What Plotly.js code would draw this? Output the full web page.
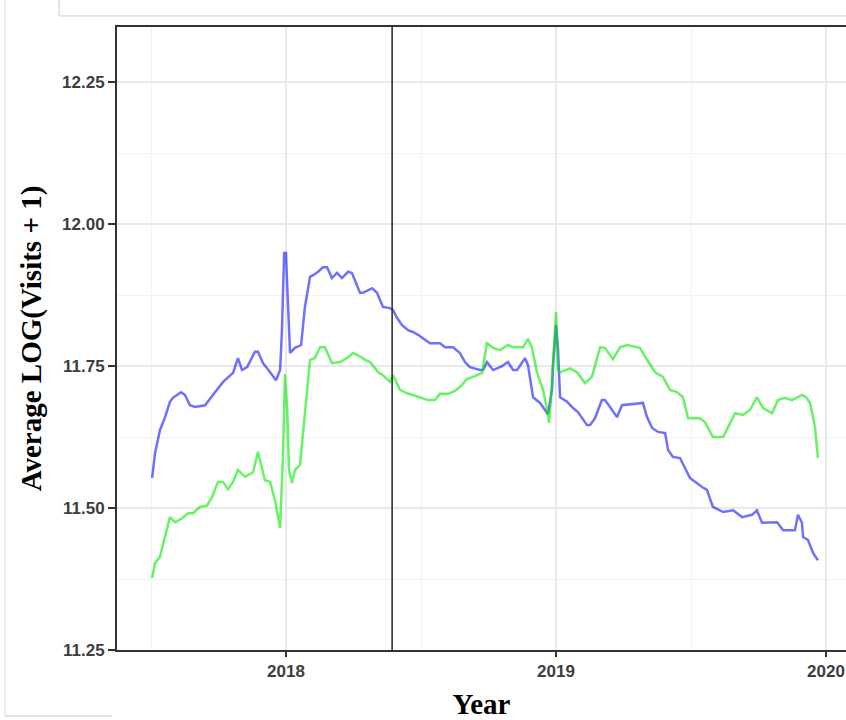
<!DOCTYPE html>
<html>
<head>
<meta charset="utf-8">
<script src="https://cdn.plot.ly/plotly-3.0.1.min.js"></script>
<style>
  html, body { margin: 0; padding: 0; background: #ffffff; }
  #chart { width: 846px; height: 720px; }
</style>
</head>
<body>
<div id="chart"></div>
<script>
// ---- Data ----
const blueYear = [2017.504,2017.515,2017.533,2017.552,2017.570,2017.581,2017.611,2017.626,2017.644,2017.663,
  2017.700,2017.719,2017.737,2017.767,2017.785,2017.804,2017.822,2017.837,2017.856,2017.885,
  2017.896,2017.915,2017.941,2017.963,2017.978,2017.985,2017.993,2018.000,2018.004,2018.015,
  2018.033,2018.056,2018.070,2018.089,2018.100,2018.119,2018.137,2018.152,2018.170,2018.189,
  2018.207,2018.230,2018.244,2018.274,2018.285,2018.319,2018.337,2018.359,2018.385,2018.396,
  2018.411,2018.430,2018.452,2018.470,2018.489,2018.515,2018.533,2018.570,2018.589,2018.619,
  2018.644,2018.663,2018.681,2018.719,2018.730,2018.744,2018.767,2018.800,2018.822,2018.841,
  2018.856,2018.885,2018.896,2018.915,2018.941,2018.970,2018.985,2018.989,2019.000,2019.007,
  2019.015,2019.041,2019.063,2019.081,2019.115,2019.126,2019.144,2019.170,2019.181,2019.200,
  2019.226,2019.244,2019.285,2019.322,2019.337,2019.356,2019.378,2019.404,2019.415,2019.433,
  2019.459,2019.478,2019.496,2019.541,2019.559,2019.581,2019.619,2019.656,2019.689,2019.726,
  2019.744,2019.763,2019.800,2019.819,2019.841,2019.885,2019.896,2019.911,2019.915,2019.933,
  2019.952,2019.970];
const blueValue = [11.553,11.597,11.637,11.660,11.687,11.694,11.704,11.699,11.681,11.678,
  11.681,11.694,11.704,11.722,11.729,11.738,11.764,11.743,11.748,11.775,
  11.775,11.755,11.739,11.725,11.743,11.813,11.949,11.949,11.896,11.773,
  11.782,11.787,11.854,11.907,11.910,11.916,11.924,11.924,11.905,11.914,
  11.905,11.916,11.914,11.879,11.879,11.887,11.879,11.854,11.852,11.849,
  11.835,11.822,11.813,11.810,11.805,11.796,11.790,11.790,11.783,11.783,
  11.773,11.757,11.748,11.743,11.743,11.757,11.743,11.750,11.757,11.743,
  11.743,11.764,11.752,11.695,11.685,11.665,11.708,11.752,11.822,11.783,
  11.695,11.687,11.676,11.669,11.646,11.646,11.658,11.690,11.690,11.678,
  11.660,11.681,11.683,11.685,11.660,11.641,11.634,11.632,11.602,11.590,
  11.588,11.570,11.553,11.537,11.532,11.502,11.493,11.496,11.484,11.488,
  11.496,11.474,11.474,11.475,11.461,11.461,11.488,11.474,11.449,11.444,
  11.421,11.408];

const greenYear = [2017.504,2017.515,2017.533,2017.552,2017.570,2017.589,2017.615,2017.637,2017.656,2017.681,
  2017.707,2017.726,2017.748,2017.767,2017.785,2017.804,2017.822,2017.848,2017.878,2017.896,
  2017.922,2017.941,2017.959,2017.978,2017.989,2017.996,2018.004,2018.011,2018.022,2018.033,
  2018.052,2018.063,2018.089,2018.107,2018.126,2018.144,2018.170,2018.200,2018.226,2018.248,
  2018.267,2018.293,2018.311,2018.341,2018.359,2018.385,2018.396,2018.422,2018.448,2018.470,
  2018.496,2018.526,2018.552,2018.570,2018.600,2018.626,2018.644,2018.670,2018.693,2018.726,
  2018.744,2018.767,2018.793,2018.822,2018.841,2018.878,2018.896,2018.911,2018.930,2018.952,
  2018.967,2018.974,2018.981,2018.989,2019.000,2019.007,2019.015,2019.052,2019.078,2019.107,
  2019.133,2019.163,2019.181,2019.211,2019.237,2019.263,2019.311,2019.337,2019.367,2019.396,
  2019.422,2019.448,2019.470,2019.489,2019.533,2019.552,2019.581,2019.619,2019.663,2019.693,
  2019.719,2019.744,2019.767,2019.800,2019.822,2019.848,2019.874,2019.911,2019.926,2019.941,
  2019.959,2019.970];
const greenValue = [11.377,11.403,11.414,11.449,11.484,11.475,11.482,11.491,11.491,11.502,
  11.504,11.519,11.546,11.546,11.533,11.546,11.567,11.555,11.563,11.599,
  11.549,11.546,11.514,11.465,11.597,11.736,11.678,11.567,11.544,11.567,
  11.576,11.632,11.761,11.764,11.783,11.783,11.755,11.757,11.764,11.773,
  11.769,11.761,11.757,11.739,11.734,11.722,11.734,11.708,11.702,11.699,
  11.695,11.690,11.690,11.701,11.701,11.706,11.713,11.727,11.731,11.738,
  11.790,11.782,11.778,11.787,11.783,11.783,11.798,11.782,11.738,11.708,
  11.673,11.650,11.690,11.766,11.845,11.743,11.739,11.746,11.739,11.720,
  11.731,11.783,11.782,11.762,11.783,11.787,11.782,11.761,11.739,11.731,
  11.708,11.704,11.695,11.658,11.658,11.651,11.625,11.625,11.667,11.664,
  11.673,11.695,11.676,11.667,11.690,11.694,11.690,11.699,11.695,11.685,
  11.643,11.588];

const cutoffYear = 2018.393;
const xTickVals = [2018, 2019, 2020];
const xTickText = ['2018', '2019', '2020'];
const xTitle = 'Year';
const yTitle = 'Average LOG(Visits + 1)';

// ---- Traces ----
const traces = [
  {
    x: blueYear, y: blueValue, type: 'scatter', mode: 'lines',
    line: { color: 'rgba(0,0,255,0.56)', width: 2.5 },
    showlegend: false, hoverinfo: 'x+y'
  },
  {
    x: greenYear, y: greenValue, type: 'scatter', mode: 'lines',
    line: { color: 'rgba(0,235,0,0.6)', width: 2.5 },
    showlegend: false, hoverinfo: 'x+y'
  }
];

const tickFont = { family: 'Liberation Sans, Arial, sans-serif', size: 17, color: '#3d3d3d', weight: 'bold' };
const titleFont = { family: 'Liberation Serif, Times New Roman, serif', size: 29, color: '#000000', weight: 'bold' };

const layout = {
  width: 846, height: 720,
  margin: { l: 117, r: 0, t: 27, b: 70, pad: 0 },
  paper_bgcolor: '#ffffff',
  plot_bgcolor: '#ffffff',
  showlegend: false,
  xaxis: {
    range: [2017.374, 2020.074],
    tickmode: 'array', tickvals: xTickVals, ticktext: xTickText,
    ticks: 'outside', ticklen: 5, tickwidth: 1.5, tickcolor: '#333333',
    tickfont: tickFont,
    showgrid: true, gridcolor: '#e9e9e9', gridwidth: 1.5,
    minor: { tickmode: 'linear', tick0: 2017.5, dtick: 0.5, showgrid: true, gridcolor: '#f2f2f2', gridwidth: 1, ticks: '' },
    zeroline: false,
    showline: true, linecolor: '#333333', linewidth: 2, mirror: true,
    title: { text: xTitle, font: titleFont, standoff: 14 },
    automargin: false
  },
  yaxis: {
    range: [11.25, 12.347],
    tickmode: 'linear', tick0: 11.25, dtick: 0.25, tickformat: '.2f',
    ticks: 'outside', ticklen: 7, tickwidth: 1.5, tickcolor: '#333333',
    tickfont: tickFont,
    showgrid: true, gridcolor: '#e9e9e9', gridwidth: 1.5,
    minor: { tickmode: 'linear', tick0: 11.375, dtick: 0.25, showgrid: true, gridcolor: '#f2f2f2', gridwidth: 1, ticks: '' },
    zeroline: false,
    showline: true, linecolor: '#333333', linewidth: 2,
    title: { text: yTitle, font: titleFont, standoff: 12 },
    automargin: false
  },
  shapes: [
    { type: 'line', xref: 'x', yref: 'paper', x0: cutoffYear, x1: cutoffYear, y0: 0, y1: 1,
      line: { color: '#333333', width: 1.6 } },
    // screenshot frame remnants
    { type: 'line', xref: 'paper', yref: 'paper', x0: -0.0796, x1: 1.0, y0: 1.0177, y1: 1.0177,
      line: { color: '#cccccc', width: 1 } },
    { type: 'line', xref: 'paper', yref: 'paper', x0: -0.0796, x1: -0.0796, y0: 1.0177, y1: 1.05,
      line: { color: '#cccccc', width: 1 } },
    { type: 'line', xref: 'paper', yref: 'paper', x0: -0.1536, x1: -0.1536, y0: -0.106, y1: 1.05,
      line: { color: '#dddddd', width: 1 } },
    { type: 'line', xref: 'paper', yref: 'paper', x0: -0.1536, x1: -0.0069, y0: -0.106, y1: -0.106,
      line: { color: '#cccccc', width: 1 } }
  ]
};

Plotly.newPlot('chart', traces, layout, { displayModeBar: false, staticPlot: true });
</script>
</body>
</html>
